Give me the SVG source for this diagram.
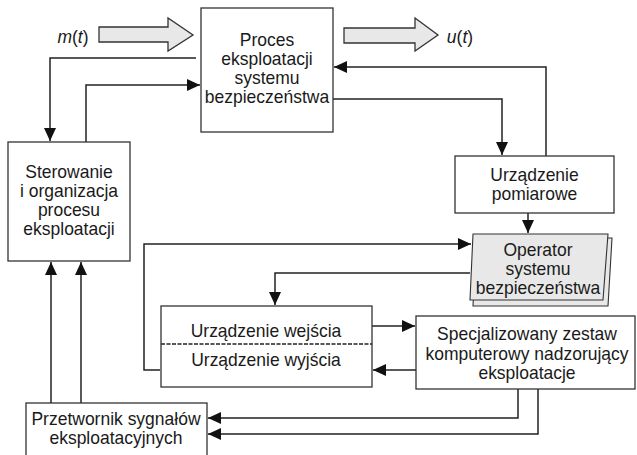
<svg xmlns="http://www.w3.org/2000/svg" width="637" height="455" viewBox="0 0 637 455">
<defs>
<style>
.box{fill:#fff;stroke:#333;stroke-width:1.3}
.op{fill:#e8e8e8;stroke:#333;stroke-width:1.1}
.big{fill:#e8e8e8;stroke:#333;stroke-width:1.3}
.ln{fill:none;stroke:#222;stroke-width:1.5;marker-end:url(#ah)}
text{font-family:"Liberation Sans",Arial,sans-serif;font-size:18.6px;fill:#1a1a1a;text-anchor:middle}
.it{font-style:italic}
</style>
<marker id="ah" markerUnits="userSpaceOnUse" markerWidth="14" markerHeight="12" refX="13" refY="6" orient="auto">
<path d="M0,0 L13,6 L0,12 Z" fill="#111"/>
</marker>
</defs>
<rect width="637" height="455" fill="#fff"/>

<g id="connectors">
<path class="big" d="M99,27 H168 V18 L193,35 L168,51 V42 H99 Z"/>
<path class="big" d="M344,28 H415 V18 L438,35 L415,51 V43 H344 Z"/>
<path class="ln" d="M196,58 H50 V141"/>
<path class="ln" d="M86,142 V85 H200"/>
<path class="ln" d="M333,99 H502 V155"/>
<path class="ln" d="M546,156 V67 H334"/>
<path class="ln" d="M528,213 V233"/>
<path class="ln" d="M160,370 H144 V244 H471"/>
<path class="ln" d="M470,273 H275 V305"/>
<path class="ln" d="M372,326 H415"/>
<path class="ln" d="M416,370 H373"/>
<path class="ln" d="M518,389 V418 H208"/>
<path class="ln" d="M538,389 V434 H208"/>
<path class="ln" d="M51,403 V262"/>
<path class="ln" d="M81,403 V262"/>
</g>

<g id="m" transform="matrix(0.94,0,0,1,4.38,0)">
<text x="73" y="43"><tspan class="it">m</tspan>(<tspan class="it">t</tspan>)</text>
</g>
<g id="u" transform="matrix(0.94,0,0,1,27.6,0)">
<text x="460" y="43"><tspan class="it">u</tspan>(<tspan class="it">t</tspan>)</text>
</g>

<g id="proces">
<rect class="box" x="201" y="8" width="132" height="124"/>
<g transform="matrix(0.94,0,0,1,16.02,0)">
<text x="267" y="46">Proces</text>
<text x="267" y="65">eksploatacji</text>
<text x="267" y="84">systemu</text>
<text x="267" y="103">bezpieczeństwa</text>
</g>
</g>

<g id="sterowanie">
<rect class="box" x="8" y="142" width="122" height="119"/>
<g transform="matrix(0.94,0,0,1,4.14,0)">
<text x="69" y="178">Sterowanie</text>
<text x="69" y="197">i organizacja</text>
<text x="69" y="216">procesu</text>
<text x="69" y="235">eksploatacji</text>
</g>
</g>

<g id="pomiarowe">
<rect class="box" x="455" y="156" width="159" height="57"/>
<g transform="matrix(0.94,0,0,1,32.07,0)">
<text x="534.5" y="181">Urządzenie</text>
<text x="534.5" y="200">pomiarowe</text>
</g>
</g>

<g id="operator">
<path class="op" d="M476,238 L612,238 L608,306 L473,306 Z"/>
<path class="op" d="M473,234 L608,234 L603,300 L470,300 Z"/>
<g transform="matrix(0.94,0,0,1,32.28,0)">
<text x="538" y="256">Operator</text>
<text x="538" y="275">systemu</text>
<text x="538" y="294">bezpieczeństwa</text>
</g>
</g>

<g id="we-wy">
<rect class="box" x="161" y="306" width="211" height="81"/>
<line x1="161" y1="344" x2="372" y2="344" stroke="#222" stroke-width="1.5" stroke-dasharray="4,1.5"/>
<g transform="matrix(0.94,0,0,1,15.96,0)">
<text x="266" y="337">Urządzenie wejścia</text>
<text x="266" y="366">Urządzenie wyjścia</text>
</g>
</g>

<g id="zestaw">
<rect class="box" x="416" y="316" width="219" height="73"/>
<g transform="matrix(0.94,0,0,1,31.62,0)">
<text x="527" y="340">Specjalizowany zestaw</text>
<text x="527" y="360">komputerowy nadzorujący</text>
<text x="527" y="379">eksploatacje</text>
</g>
</g>

<g id="przetwornik">
<rect class="box" x="26" y="403" width="181" height="60"/>
<g transform="matrix(0.94,0,0,1,6.96,0)">
<text x="116" y="425">Przetwornik sygnałów</text>
<text x="116" y="444">eksploatacyjnych</text>
</g>
</g>
</svg>
